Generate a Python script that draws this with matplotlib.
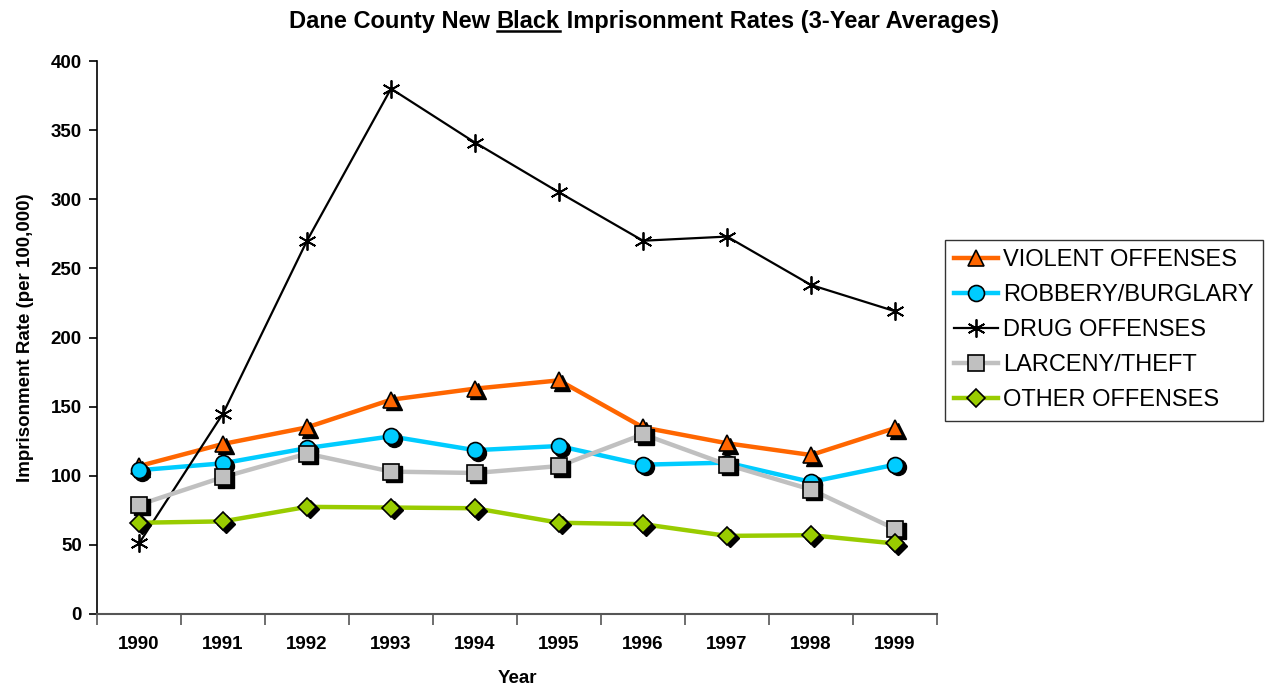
import matplotlib
matplotlib.use("Agg")
import matplotlib.pyplot as plt
import matplotlib.transforms as mtransforms
import numpy as np

plt.rcParams['font.family'] = ['Liberation Sans', 'DejaVu Sans']

years = ['1990', '1991', '1992', '1993', '1994', '1995', '1996', '1997', '1998', '1999']
violent = [107, 123, 135, 155, 163, 169, 135, 123.5, 115, 134.5]
robbery = [104, 109, 120, 128.5, 118.5, 121.5, 108, 109.5, 95.5, 108]
drug = [51, 145, 270, 380, 341, 305, 270, 273, 238, 219]
larceny = [79, 99, 116, 103, 102, 107, 130, 108, 90, 61.5]
other = [66, 67, 77.5, 77, 76.5, 66, 65, 56.5, 57, 51]

series = [
    ('VIOLENT OFFENSES', violent, '#FF6600', '#FF6600', '^', 3.2, True, 12),
    ('ROBBERY/BURGLARY', robbery, '#00CCFF', '#00CCFF', 'o', 3.2, True, 11.5),
    ('DRUG OFFENSES', drug, '#000000', '#000000', (6, 2, 0), 1.6, False, 13),
    ('LARCENY/THEFT', larceny, '#C0C0C0', '#C0C0C0', 's', 3.2, True, 11),
    ('OTHER OFFENSES', other, '#99CC00', '#99CC00', 'D', 3.2, True, 9.5),
]

fig = plt.figure(figsize=(12.74, 6.92), dpi=100)
ax = fig.add_axes([97/1274, 1-614/692, (937-97)/1274, (614-61)/692])

x = np.arange(len(years))
shadow = mtransforms.offset_copy(ax.transData, fig=fig, x=2.5, y=-2.5, units='dots')
handles = []
for i, (name, vals, lc, fc, mk, lw, sh, ms) in enumerate(series):
    z = 3 + i * 3
    ax.plot(x, vals, color=lc, lw=lw, zorder=z, solid_capstyle='butt')
    if sh:
        ax.plot(x, vals, ls='none', marker=mk, ms=ms, color='black',
                mec='black', transform=shadow, zorder=z + 1)
        ax.plot(x, vals, ls='none', marker=mk, ms=ms, mfc=fc, mec='black',
                mew=1.2, zorder=z + 2)
    else:
        ax.plot(x, vals, ls='none', marker=mk, ms=ms, color='black',
                mew=1.3, zorder=z + 2)
    lh, = ax.plot([], [], color=lc, lw=lw, marker=mk, ms=ms, mfc=fc,
                  mec='black', mew=(1.2 if sh else 1.3))
    handles.append((lh, name))

fs = 13.5
ax.set_xlim(-0.5, 9.5)
ax.set_ylim(0, 400)
ax.set_yticks(np.arange(0, 401, 50))
ax.set_xticks(x)
ax.set_xticklabels(years, fontweight='bold', fontsize=fs)
ax.set_xticks(np.arange(-0.5, 9.6, 1), minor=True)
ax.tick_params(axis='x', which='major', length=0, pad=16)
ax.tick_params(axis='x', which='minor', length=8, width=1.2, color='#555555', direction='out')
ax.tick_params(axis='y', length=6, width=1.2, direction='out', pad=5)
for lab in ax.get_yticklabels():
    lab.set_fontweight('bold')
    lab.set_fontsize(fs)

for s in ['top', 'right']:
    ax.spines[s].set_visible(False)
ax.spines['left'].set_color('black')
ax.spines['left'].set_linewidth(1.2)
ax.spines['bottom'].set_color('#555555')
ax.spines['bottom'].set_linewidth(1.5)

ax.set_ylabel('Imprisonment Rate (per 100,000)', fontweight='bold', fontsize=fs, labelpad=12)
ax.set_xlabel('Year', fontweight='bold', fontsize=fs, labelpad=12)

leg = ax.legend([h for h, n in handles], [n for h, n in handles],
                loc='upper left', bbox_to_anchor=(945/1274, 1-240/692),
                bbox_transform=fig.transFigure, fontsize=17, frameon=True,
                fancybox=False, edgecolor='black', handlelength=1.85,
                handletextpad=0.2, labelspacing=0.55, borderpad=0.4,
                borderaxespad=0)
leg.get_frame().set_linewidth(1.0)

# Title with underlined "Black"
tsize = 17
parts = ['Dane County New ', 'Black', ' Imprisonment Rates (3-Year Averages)']
fig.canvas.draw()
r = fig.canvas.get_renderer()
texts = [fig.text(0, 0, p, fontsize=tsize, fontweight='bold') for p in parts]
widths = [t.get_window_extent(r).width for t in texts]
total = sum(widths)
cx, cy = 644, 692 - 28
xpos = cx - total / 2
for t, w in zip(texts, widths):
    t.set_position((xpos / 1274, cy / 692))
    if t.get_text() == 'Black':
        fig.add_artist(plt.Line2D([xpos / 1274, (xpos + w) / 1274],
                                  [(cy - 3) / 692, (cy - 3) / 692],
                                  color='black', lw=1.8, transform=fig.transFigure))
    xpos += w

fig.savefig('out.png', dpi=100)
